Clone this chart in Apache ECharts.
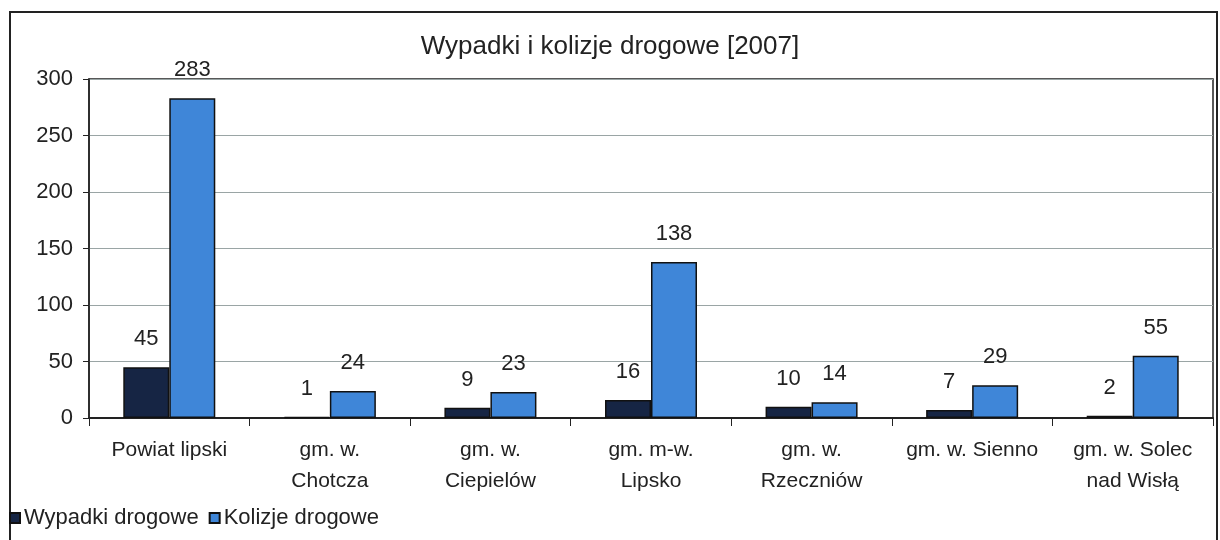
<!DOCTYPE html>
<html>
<head>
<meta charset="utf-8">
<script src="https://cdn.jsdelivr.net/npm/echarts@6/dist/echarts.min.js"></script>
<style>
  html, body { margin: 0; padding: 0; background: #fff; }
  #main { width: 1220px; height: 540px; }
</style>
</head>
<body>
<div id="main"></div>
<script>
// dane z wykresu
var categories = ['Powiat lipski', 'gm. w.\nChotcza', 'gm. w.\nCiepielów', 'gm. m-w.\nLipsko',
  'gm. w.\nRzeczniów', 'gm. w. Sienno', 'gm. w. Solec\nnad Wisłą'];
var wypadki = [45, 1, 9, 16, 10, 7, 2];
var kolizje = [283, 24, 23, 138, 14, 29, 55];
var yTicks = { min: 0, max: 300, interval: 50 };

var myChart = echarts.init(document.getElementById('main'));

var labelStyle = {
  show: true,
  position: 'top',
  distance: 17,
  color: '#222',
  fontFamily: 'Liberation Sans, Arial',
  fontSize: 22
};

var option = {
  backgroundColor: '#fff',
  animation: false,
  title: {
    text: 'Wypadki i kolizje drogowe [2007]',
    left: 'center',
    top: 29,
    textStyle: { fontFamily: 'Liberation Sans, Arial', fontSize: 26, fontWeight: 'normal', color: '#222' }
  },
  graphic: [{
    type: 'rect',
    shape: { x: 10, y: 12, width: 1207, height: 540 },
    style: { fill: 'none', stroke: '#222', lineWidth: 2 },
    silent: true
  }],
  legend: {
    left: 4,
    bottom: 6,
    itemWidth: 10,
    itemHeight: 10,
    itemGap: 10,
    icon: 'rect',
    textStyle: { fontFamily: 'Liberation Sans, Arial', fontSize: 22, color: '#222', padding: [0, 0, 0, -1] },
    data: ['Wypadki drogowe', 'Kolizje drogowe']
  },
  grid: {
    left: 89,
    right: 7,
    top: 79,
    bottom: 122,
    show: true,
    borderColor: '#222',
    borderWidth: 1.5
  },
  xAxis: {
    type: 'category',
    data: categories,
    axisLine: { lineStyle: { color: '#222', width: 2 } },
    axisTick: { show: true, length: 8, alignWithLabel: false, lineStyle: { color: '#222' } },
    axisLabel: {
      margin: 17,
      lineHeight: 31,
      fontFamily: 'Liberation Sans, Arial',
      fontSize: 21,
      color: '#222',
      interval: 0
    }
  },
  yAxis: {
    type: 'value',
    min: yTicks.min,
    max: yTicks.max,
    interval: yTicks.interval,
    axisLine: { show: true, lineStyle: { color: '#222', width: 1.5 } },
    axisTick: { show: true, length: 6, lineStyle: { color: '#222' } },
    splitLine: { lineStyle: { color: '#9aa5a5', width: 1 } },
    axisLabel: {
      margin: 16,
      fontFamily: 'Liberation Sans, Arial',
      fontSize: 22,
      color: '#222'
    }
  },
  series: [{
    name: 'Wypadki drogowe',
    type: 'bar',
    data: wypadki,
    barWidth: 46,
    barGap: '0%',
    itemStyle: { color: '#162544', borderColor: '#111', borderWidth: 1.5 },
    label: labelStyle
  }, {
    name: 'Kolizje drogowe',
    type: 'bar',
    data: kolizje,
    barWidth: 46,
    itemStyle: { color: '#3f86d8', borderColor: '#111', borderWidth: 1.5 },
    label: labelStyle
  }]
};

myChart.setOption(option);
</script>
</body>
</html>
